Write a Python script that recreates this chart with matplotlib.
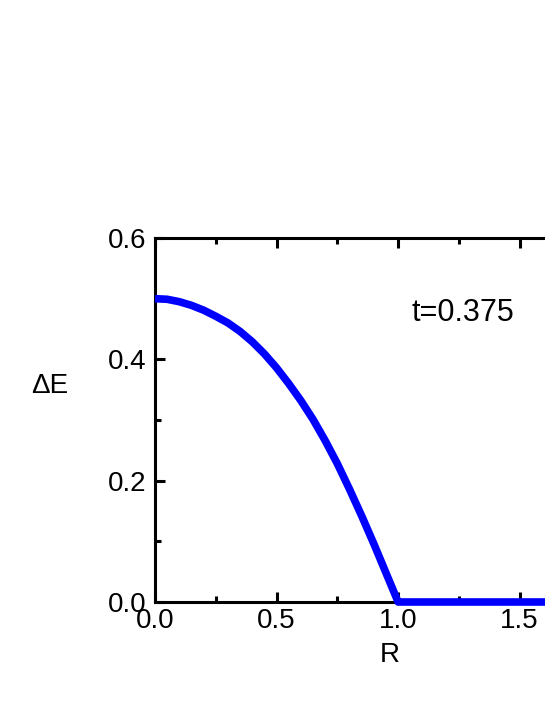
import matplotlib
matplotlib.use("Agg")
import matplotlib.pyplot as plt
from matplotlib.ticker import MultipleLocator

plt.rcParams['font.family'] = ['Liberation Sans', 'DejaVu Sans']

# values
R = [0.0, 0.05, 0.1, 0.15, 0.2, 0.25, 0.3, 0.35, 0.4, 0.45, 0.5,
     0.55, 0.6, 0.65, 0.7, 0.75, 0.8, 0.85, 0.9, 0.95, 1.0,
     1.25, 1.5, 1.75, 2.0]
dE = [0.5, 0.499, 0.495, 0.489, 0.481, 0.471, 0.46, 0.446, 0.429, 0.409, 0.386,
      0.36, 0.332, 0.301, 0.266, 0.228, 0.186, 0.142, 0.096, 0.048, 0.0,
      0.0, 0.0, 0.0, 0.0]

fig = plt.figure(figsize=(5.45, 7.05), dpi=100)
# axes run past the right edge of the figure, as in the reference
ax = fig.add_axes([0.2844, 0.1461, 0.8922, 0.5163])

ax.plot(R, dE, color="blue", linewidth=5.5, solid_capstyle="butt", clip_on=False, zorder=3)

ax.set_xlim(0, 2.0)
ax.set_ylim(0, 0.6)
ax.xaxis.set_major_locator(MultipleLocator(0.5))
ax.xaxis.set_minor_locator(MultipleLocator(0.25))
ax.yaxis.set_major_locator(MultipleLocator(0.2))
ax.yaxis.set_minor_locator(MultipleLocator(0.1))
ax.xaxis.set_major_formatter(plt.FormatStrFormatter("%.1f"))
ax.yaxis.set_major_formatter(plt.FormatStrFormatter("%.1f"))

for s in ax.spines.values():
    s.set_linewidth(2.2)
ax.tick_params(which="both", direction="in", top=True, right=True, width=2.2, labelsize=20)
ax.tick_params(axis="x", which="major", length=7, pad=4)
ax.tick_params(axis="y", which="major", length=7, pad=6)
ax.tick_params(which="minor", length=4)

ax.text(1.267, 0.476, "t=0.375", fontsize=22, ha="center", va="center")
fig.text(50 / 545, 1 - 386 / 705, "ΔE", fontsize=20, ha="center", va="center")
fig.text(390 / 545, 1 - 655 / 705, "R", fontsize=20, ha="center", va="center")

plt.savefig("out.png", dpi=100)
